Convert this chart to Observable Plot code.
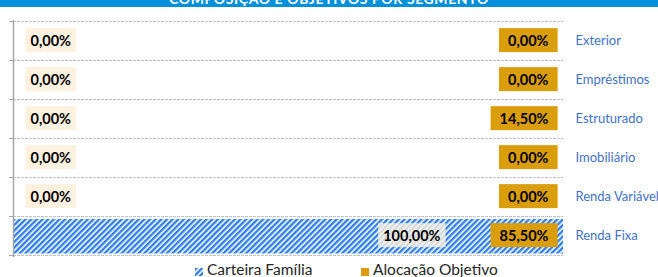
<!DOCTYPE html>
<html><head><meta charset="utf-8">
<script src="https://cdn.jsdelivr.net/npm/d3@7"></script>
<script src="https://cdn.jsdelivr.net/npm/@observablehq/plot@0.6"></script>
<style>
body{margin:0;background:#fff;font-family:Lato,sans-serif;}
#wrap{position:relative;width:658px;height:277px;overflow:hidden;}
#banner{position:absolute;left:0;top:0;width:658px;height:7px;background:#0090DA;overflow:hidden;z-index:2;}
#banner span{position:absolute;left:0;width:658px;text-align:center;top:-8px;line-height:13px;color:#fff;font-weight:bold;font-size:14px;letter-spacing:0.6px;white-space:nowrap;}
#chart{position:absolute;left:0;top:0;}
.leg{position:absolute;top:261px;font-size:15.5px;line-height:16px;color:#262626;white-space:nowrap;}
.ico{position:absolute;top:268px;width:8px;height:8px;}
</style></head>
<body>
<div id="wrap">
  <div id="banner"><span id="title"></span></div>
  <div id="chart"></div>
  <div id="legend"></div>
</div>
<script>
const titulo = "COMPOSIÇÃO E OBJETIVOS POR SEGMENTO";
const categorias = ["Exterior","Empréstimos","Estruturado","Imobiliário","Renda Variável","Renda Fixa"];
const carteira = [0,0,0,0,0,100];
const objetivo = [0,0,14.5,0,0,85.5];
const series = ["Carteira Família","Alocação Objetivo"];
const xMax = 100;

document.getElementById("title").textContent = titulo;

const rows = categorias.map((c,i)=>({cat:c, carteira:carteira[i], objetivo:objetivo[i]}));
const fmt = v => d3.format(".2f")(v).replace(".",",") + "%";
const BLUE = "#2F7FE8", GOLD = "#DA9E0C", CREAM = "#FDF2E0";
const lastCat = categorias[categorias.length-1];

const marks = [
  Plot.ruleY(categorias,{y:d=>d, dy:-19.5, stroke:"#C4C4C4", strokeDasharray:"3,1"}),
  Plot.ruleY([lastCat],{y:d=>d, dy:19.5, stroke:"#C4C4C4", strokeDasharray:"3,1"}),
  Plot.barX(rows,{y:"cat", x:"carteira", fill:"url(#hatch)", insetTop:3, insetBottom:1.5}),
  Plot.ruleX([0],{stroke:"#A6A6A6", strokeWidth:1.5, insetTop:-1, insetBottom:-2}),
  Plot.ruleY(categorias,{y:d=>d, x1:0, x2:0, dy:-19.5, insetLeft:-4, stroke:"#A6A6A6"}),
  Plot.ruleY([lastCat],{y:d=>d, x1:0, x2:0, dy:19.5, insetLeft:-4, stroke:"#A6A6A6"})
];
const creamMark = Plot.text(rows.filter(d=>d.carteira===0),{x:"carteira", y:"cat", text:d=>fmt(d.carteira), textAnchor:"start", dx:17, fontWeight:"bold", fontSize:14.5, fill:"#000"});
const cream2Mark = Plot.text(rows.filter(d=>d.carteira!==0),{x:"carteira", y:"cat", text:d=>fmt(d.carteira), textAnchor:"end", dx:-123, fontWeight:"bold", fontSize:14.5, fill:"#000"});
const goldMark = Plot.text(rows,{x:()=>xMax, y:"cat", text:d=>fmt(d.objetivo), textAnchor:"end", dx:-15, fontWeight:"bold", fontSize:14.5, fill:"#000"});
const catMark = Plot.text(categorias,{x:()=>xMax, y:d=>d, text:d=>d, textAnchor:"start", dx:12, fontSize:13, fill:"#4472C4"});
const iCream = marks.length;
marks.push(creamMark, cream2Mark, goldMark, catMark);

const chart = Plot.plot({
  width:658, height:262,
  marginTop:21, marginBottom:7, marginLeft:13, marginRight:95,
  x:{domain:[0,xMax], axis:null},
  y:{domain:categorias, axis:null, padding:0},
  style:{fontFamily:"Lato, sans-serif", background:"transparent", overflow:"visible"},
  marks
});
document.getElementById("chart").appendChild(chart);

// hatch pattern
const ns = "http://www.w3.org/2000/svg";
const defs = document.createElementNS(ns,"defs");
defs.innerHTML = `<pattern id="hatch" patternUnits="userSpaceOnUse" width="4" height="4" patternTransform="rotate(45)"><rect width="4" height="4" fill="#fff"/><rect width="2.4" height="4" fill="${BLUE}"/></pattern>`;
chart.insertBefore(defs, chart.firstChild);

const groups = Array.from(chart.children).filter(e=>e.tagName.toLowerCase()==="g");
function boxes(g, fill, padX, padY, opacity){
  if(!g) return;
  g.querySelectorAll("text").forEach(t=>{
    const b = t.getBBox();
    const r = document.createElementNS(ns,"rect");
    r.setAttribute("x", b.x-padX); r.setAttribute("y", b.y-padY);
    r.setAttribute("width", b.width+2*padX); r.setAttribute("height", b.height+2*padY);
    r.setAttribute("fill", fill);
    if(opacity) r.setAttribute("fill-opacity", opacity);
    if(t.getAttribute("transform")) r.setAttribute("transform", t.getAttribute("transform"));
    t.parentNode.insertBefore(r, t);
  });
}
boxes(groups[iCream], CREAM, 5, 3.5);
boxes(groups[iCream+1], CREAM, 5, 3.5, 0.8);
boxes(groups[iCream+2], GOLD, 9, 3.5);

// legend
const leg = document.getElementById("legend");
leg.innerHTML = `
<svg class="ico" style="left:195px" viewBox="0 0 8 8"><rect width="8" height="8" fill="url(#hatch)"/></svg>
<div class="leg" style="left:207px">${series[0]}</div>
<div class="ico" style="left:361px;background:${GOLD}"></div>
<div class="leg" style="left:373px">${series[1]}</div>`;
</script>
</body></html>
